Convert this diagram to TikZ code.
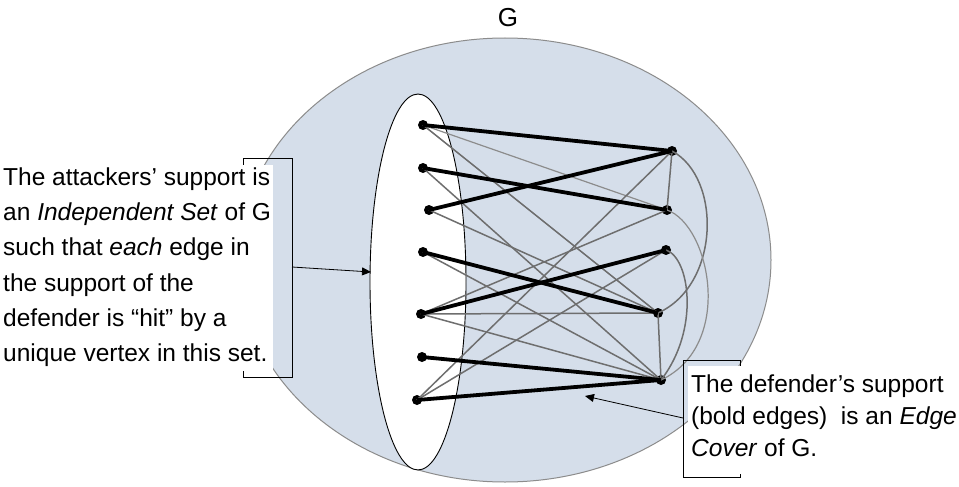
\documentclass[tikz,border=0pt]{standalone}
\usepackage{fontspec}
\setmainfont{Liberation Sans}
\usetikzlibrary{arrows.meta}

\definecolor{gfill}{RGB}{213,222,234}
\definecolor{gedge}{RGB}{110,110,110}
\definecolor{glight}{RGB}{140,140,140}

\tikzset{
  vtx/.style={circle, fill=black, inner sep=0pt, minimum size=10pt},
  boldedge/.style={black, line width=3.8pt},
  thinedge/.style={gedge, line width=1.5pt},
  lightedge/.style={glight, line width=1.2pt},
  pointer/.style={black, line width=0.8pt, -{Triangle[length=9pt,width=8pt]}},
  bracketbox/.style={black, line width=0.9pt},
  label/.style={font=\fontsize{24.5}{35.2}\selectfont, align=left, inner sep=0pt}
}

\begin{document}
\begin{tikzpicture}[x=1pt, y=-1pt]
  \useasboundingbox (0,0) rectangle (959,487);
  \fill[white] (0,0) rectangle (959,487);

  % graph G
  \fill[gfill] (505,260) ellipse [x radius=266, y radius=222];
  \draw[glight, line width=1pt] (505,260) ellipse [x radius=266, y radius=222];
  \node[label, font=\fontsize{26}{30}\selectfont, anchor=center] (gname) at (508,18) {G};

  % attacker side
  \draw[black, fill=white, line width=0.9pt] (418,282) ellipse [x radius=48, y radius=188];

  % vertices
  \node[vtx] (l1) at (423,125) {};
  \node[vtx] (l2) at (423,168) {};
  \node[vtx] (l3) at (429,210) {};
  \node[vtx] (l4) at (423,252) {};
  \node[vtx] (l5) at (421,314) {};
  \node[vtx] (l6) at (422,357) {};
  \node[vtx] (l7) at (417,400) {};
  \node[vtx] (r1) at (672,151) {};
  \node[vtx] (r2) at (667,210) {};
  \node[vtx] (r3) at (666,250) {};
  \node[vtx] (r4) at (658,313) {};
  \node[vtx] (r5) at (661,380) {};

  % remaining edges
  \draw[lightedge] (l1.center) -- (r2.center);
  \draw[thinedge] (l1.center) -- (r4.center);
  \draw[thinedge] (l2.center) -- (r5.center);
  \draw[thinedge] (l3.center) -- (r4.center);
  \draw[thinedge] (l4.center) -- (r5.center);
  \draw[thinedge] (l5.center) -- (r2.center);
  \draw[thinedge] (l5.center) -- (r4.center);
  \draw[thinedge] (l5.center) -- (r5.center);
  \draw[thinedge] (l7.center) -- (r1.center);
  \draw[thinedge] (l7.center) -- (r3.center);
  \draw[thinedge] (r1.center) -- (r2.center);
  \draw[thinedge] (r4.center) -- (r5.center);
  \draw[thinedge] (r1.center) .. controls (722,178) and (720,285) .. (r4.center);
  \draw[lightedge] (r2.center) .. controls (710,225) and (735,345) .. (r5.center);
  \draw[thinedge] (r3.center) .. controls (690,258) and (700,330) .. (r5.center);

  % defender support
  \draw[boldedge] (l1.center) -- (r1.center);
  \draw[boldedge] (l2.center) -- (r2.center);
  \draw[boldedge] (l3.center) -- (r1.center);
  \draw[boldedge] (l4.center) -- (r4.center);
  \draw[boldedge] (l5.center) -- (r3.center);
  \draw[boldedge] (l6.center) -- (r5.center);
  \draw[boldedge] (l7.center) -- (r5.center);

  % left callout
  \draw[bracketbox] (243,158) rectangle (292,377);
  \fill[white] (0,165) rectangle (273,371);
  \node[label, anchor=north west] (atk) at (3,167.5)
    {The attackers’ support is\\
     an \textit{Independent Set} of G\\
     such that \textit{each} edge in\\
     the support of the\\
     defender is “hit” by a\\
     unique vertex in this set.};
  \coordinate (atkfrom) at (292,267);
  \coordinate (atkto) at (371,272);
  \draw[pointer] (atkfrom) -- (atkto);

  % right callout
  \draw[bracketbox] (683,360) rectangle (740,477);
  \fill[white] (688,366) rectangle (959,474);
  \node[label, font=\fontsize{24.5}{32}\selectfont, anchor=north west] (def) at (691,375)
    {The defender’s support\\
     (bold edges)\ \ is an \textit{Edge}\\
     \textit{Cover} of G.};
  \coordinate (deffrom) at (683,418);
  \coordinate (defto) at (585,396);
  \draw[pointer] (deffrom) -- (defto);
\end{tikzpicture}
\end{document}
